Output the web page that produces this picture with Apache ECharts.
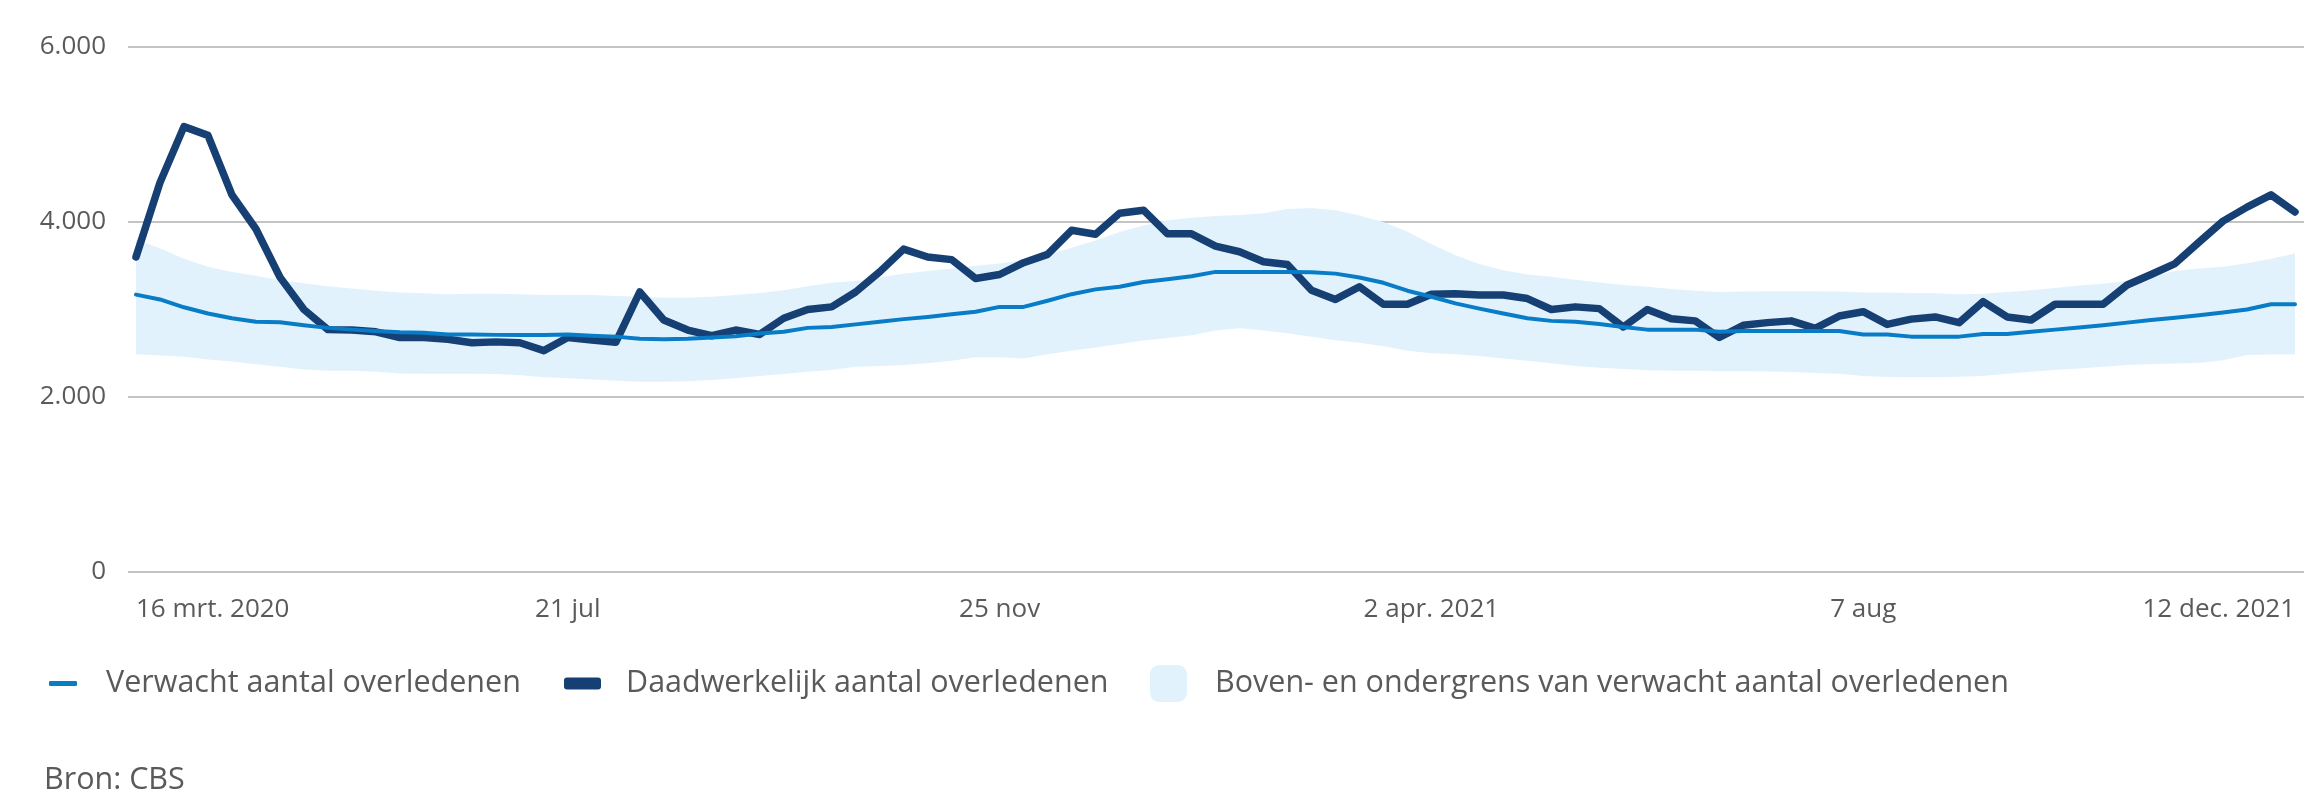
<!DOCTYPE html>
<html>
<head>
<meta charset="utf-8">
<script src="https://cdn.jsdelivr.net/npm/echarts@6/dist/echarts.min.js"></script>
<style>
  html, body { margin: 0; padding: 0; background: #ffffff; }
  #chart { width: 2309px; height: 794px; }
</style>
</head>
<body>
<div id="chart"></div>
<script>
// Weekly data, 16 mrt. 2020 (week 12) to 12 dec. 2021 (week 49)
const actual = [3600,4450,5090,4990,4310,3920,3370,3000,2770,2765,
  2745,2680,2680,2660,2620,2630,2620,2530,2680,2650,
  2625,3200,2880,2765,2700,2765,2715,2900,3000,3030,
  3200,3430,3690,3600,3570,3355,3400,3535,3630,3905,
  3860,4100,4135,3865,3865,3725,3660,3545,3515,3220,
  3115,3260,3060,3060,3175,3180,3165,3165,3125,3000,
  3030,3010,2800,3000,2895,2870,2680,2820,2850,2870,
  2785,2925,2975,2830,2890,2915,2850,3090,2915,2880,
  3060,3060,3060,3280,3400,3525,3770,4010,4170,4310,4115];

const expected = [3170,3115,3025,2955,2900,2860,2855,2820,2790,2770,
  2755,2740,2735,2715,2715,2710,2710,2710,2715,2700,
  2690,2665,2660,2665,2680,2695,2725,2745,2790,2800,
  2830,2860,2890,2915,2945,2975,3030,3030,3100,3175,
  3230,3260,3315,3345,3380,3430,3430,3430,3430,3425,
  3410,3365,3305,3215,3145,3070,3010,2955,2900,2870,
  2860,2835,2800,2770,2770,2770,2745,2755,2755,2755,
  2755,2755,2715,2715,2690,2690,2690,2720,2720,2745,
  2770,2795,2820,2850,2880,2905,2935,2965,3000,3060,3060];

const upper = [3800,3700,3580,3490,3430,3385,3335,3300,3265,3240,
  3215,3195,3185,3175,3180,3180,3175,3165,3165,3165,
  3155,3145,3135,3135,3145,3165,3190,3220,3265,3305,
  3325,3370,3410,3440,3470,3500,3525,3570,3630,3705,
  3790,3885,3960,4020,4050,4070,4080,4100,4150,4160,
  4135,4075,4000,3890,3750,3620,3520,3450,3400,3375,
  3340,3310,3280,3260,3235,3215,3200,3205,3210,3210,
  3210,3205,3195,3195,3190,3185,3175,3180,3200,3220,
  3245,3275,3295,3330,3380,3440,3470,3490,3530,3580,3640];

const lower = [2490,2475,2460,2430,2405,2375,2345,2315,2300,2300,
  2290,2270,2265,2265,2265,2263,2250,2225,2213,2200,
  2185,2175,2175,2180,2195,2213,2240,2263,2290,2310,
  2345,2355,2365,2385,2415,2455,2455,2440,2490,2530,
  2565,2605,2645,2675,2705,2760,2785,2760,2730,2690,
  2650,2620,2580,2530,2500,2490,2470,2440,2415,2385,
  2355,2335,2320,2305,2300,2300,2295,2295,2292,2285,
  2275,2265,2240,2230,2225,2225,2232,2240,2265,2290,
  2310,2327,2345,2365,2375,2384,2390,2420,2480,2485,2490];

const xTickIndex = [0, 18, 36, 54, 72, 90];
const xTickLabels = ['16 mrt. 2020', '21 jul', '25 nov', '2 apr. 2021', '7 aug', '12 dec. 2021'];

const names = {
  expected: 'Verwacht aantal overledenen',
  actual: 'Daadwerkelijk aantal overledenen',
  band: 'Boven- en ondergrens van verwacht aantal overledenen'
};

const C_ACTUAL = '#163f74';
const C_EXPECTED = '#087cc7';
const C_BAND = '#e2f2fc';
const C_TEXT = '#5a5a5a';
const FONT = '"Open Sans", "Noto Sans", sans-serif';

const toPairs = arr => arr.map((v, i) => [i, v]);
const bandData = lower.map((l, i) => [i, l, upper[i]]);

function fmtNL(v) {
  return String(v).replace(/\B(?=(\d{3})+(?!\d))/g, '.');
}

function renderBand(params, api) {
  if (params.dataIndex !== 0) return;
  const top = [], bottom = [];
  for (let i = 0; i < bandData.length; i++) {
    top.push(api.coord([bandData[i][0], bandData[i][2]]));
    bottom.push(api.coord([bandData[i][0], bandData[i][1]]));
  }
  const pts = top.concat(bottom.reverse());
  return {
    type: 'polygon',
    shape: { points: pts },
    style: { fill: C_BAND, stroke: null }
  };
}

const chart = echarts.init(document.getElementById('chart'), null, { renderer: 'canvas' });

const legendText = { fontFamily: FONT, fontSize: 30.5, color: C_TEXT, lineHeight: 37 };

chart.setOption({
  animation: false,
  backgroundColor: '#ffffff',
  textStyle: { fontFamily: FONT },
  title: {
    text: 'Bron: CBS',
    left: 44,
    top: 765,
    padding: 0,
    textStyle: { fontFamily: FONT, fontSize: 30.5, fontWeight: 'normal', color: C_TEXT }
  },
  legend: [
    {
      left: 49, top: 665, padding: 0,
      data: [{ name: names.expected, icon: 'roundRect' }],
      itemWidth: 28, itemHeight: 5,
      textStyle: Object.assign({ padding: [0, 0, 0, 24] }, legendText),
      selectedMode: false
    },
    {
      left: 564, top: 665, padding: 0,
      data: [{ name: names.actual, icon: 'roundRect' }],
      itemWidth: 37, itemHeight: 12,
      textStyle: Object.assign({ padding: [0, 0, 0, 20] }, legendText),
      selectedMode: false
    },
    {
      left: 1150, top: 665, padding: 0,
      data: [{ name: names.band, icon: 'roundRect' }],
      itemWidth: 37, itemHeight: 37,
      textStyle: Object.assign({ padding: [0, 0, 0, 23] }, legendText),
      selectedMode: false
    }
  ],
  grid: {
    left: 128, right: 5, top: 47, bottom: 222,
    containLabel: false,
    outerBoundsMode: 'none'
  },
  xAxis: {
    type: 'value',
    min: -0.333,
    max: 90.375,
    axisLine: { show: false },
    axisTick: { show: false },
    splitLine: { show: false },
    axisLabel: {
      customValues: xTickIndex,
      formatter: function (v) {
        const k = xTickIndex.indexOf(Math.round(v));
        return k >= 0 ? xTickLabels[k] : '';
      },
      alignMinLabel: 'left',
      alignMaxLabel: 'right',
      margin: 25,
      fontFamily: FONT,
      fontSize: 26,
      color: C_TEXT
    }
  },
  yAxis: {
    type: 'value',
    min: 0,
    max: 6000,
    interval: 2000,
    axisLine: { show: false },
    axisTick: { show: false },
    splitLine: { show: true, lineStyle: { color: '#c4c4c4', width: 2 } },
    axisLabel: {
      formatter: fmtNL,
      margin: 22,
      fontFamily: FONT,
      fontSize: 26,
      color: C_TEXT
    }
  },
  series: [
    {
      name: names.band,
      type: 'custom',
      renderItem: renderBand,
      data: bandData,
      encode: { x: 0, y: [1, 2] },
      itemStyle: { color: C_BAND },
      silent: true,
      z: 1
    },
    {
      name: names.actual,
      type: 'line',
      data: toPairs(actual),
      showSymbol: false,
      symbol: 'none',
      lineStyle: { color: C_ACTUAL, width: 7.5, cap: 'round', join: 'round' },
      itemStyle: { color: C_ACTUAL },
      z: 3
    },
    {
      name: names.expected,
      type: 'line',
      data: toPairs(expected),
      showSymbol: false,
      symbol: 'none',
      lineStyle: { color: C_EXPECTED, width: 4, cap: 'round', join: 'round' },
      itemStyle: { color: C_EXPECTED },
      z: 4
    }
  ]
});
</script>
</body>
</html>
